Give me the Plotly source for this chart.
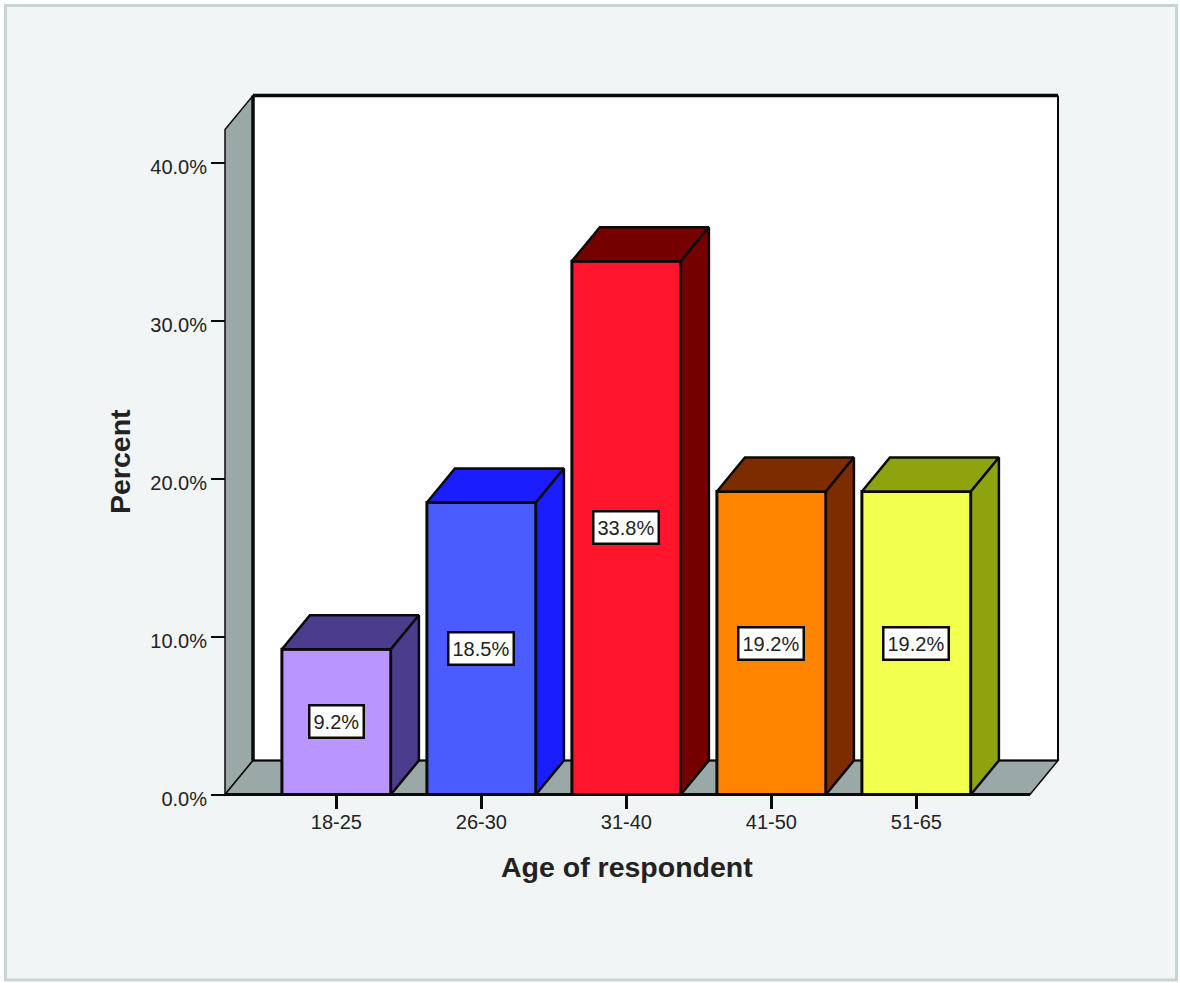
import plotly.graph_objects as go

# Survey results: share of respondents per age band
age_bands = ["18-25", "26-30", "31-40", "41-50", "51-65"]
percent = [9.2, 18.5, 33.8, 19.2, 19.2]
y_ticks = [0, 10, 20, 30, 40]
y_tick_labels = ["0.0%", "10.0%", "20.0%", "30.0%", "40.0%"]
front_colors = ["#b995ff", "#4a5cff", "#ff162d", "#ff8500", "#f2ff4d"]
side_colors = ["#4c3c8c", "#1a1eff", "#740000", "#7d2c00", "#8ea30d"]

WIDTH, HEIGHT = 1180, 983
PLOT_L, PLOT_R, PLOT_T, PLOT_B = 215, 1067, 85, 805
ORIGIN_X, ORIGIN_Y = 336.4, 794.5   # pixel position of the first category / of 0%
PX_PER_CAT, PX_PER_PCT = 145.0, 15.78
BAR_WIDTH = 109 / PX_PER_CAT
DX, DY = 28 / PX_PER_CAT, 34 / PX_PER_PCT   # oblique depth of the 3D look
X0 = (225 - ORIGIN_X) / PX_PER_CAT
X1 = (1030 - ORIGIN_X) / PX_PER_CAT
Y_TOP = (ORIGIN_Y - 95.5) / PX_PER_PCT
INK = "#0a0a0a"
WALL = "#9aa9a7"
TEXT = "#222222"


def poly(points):
    return "M" + " L".join(f"{x},{y}" for x, y in points) + " Z"


def paper_x(px):
    return (px - PLOT_L) / (PLOT_R - PLOT_L)


def paper_y(py):
    return (PLOT_B - py) / (PLOT_B - PLOT_T)


def edge(x_a, y_a, x_b, y_b, width):
    return dict(type="line", layer="below", xref="x", yref="y", x0=x_a, y0=y_a,
                x1=x_b, y1=y_b, line=dict(color=INK, width=width))


shapes = [
    # panel behind the chart
    dict(type="rect", layer="below", xref="paper", yref="paper",
         x0=paper_x(5.5), x1=paper_x(1176.5), y0=paper_y(980), y1=paper_y(5.5),
         fillcolor="#f1f5f6", line=dict(color="#c8d5d4", width=3)),
    # back wall
    dict(type="path", layer="below", xref="x", yref="y",
         path=poly([(X0 + DX, DY), (X0 + DX, Y_TOP), (X1 + DX, Y_TOP), (X1 + DX, DY)]),
         fillcolor="white", line=dict(width=0)),
    # left wall
    dict(type="path", layer="below", xref="x", yref="y",
         path=poly([(X0, 0), (X0 + DX, DY), (X0 + DX, Y_TOP), (X0, Y_TOP - DY)]),
         fillcolor=WALL, line=dict(color=INK, width=1.5)),
    # floor
    dict(type="path", layer="below", xref="x", yref="y",
         path=poly([(X0, 0), (X0 + DX, DY), (X1 + DX, DY), (X1, 0)]),
         fillcolor=WALL, line=dict(color=INK, width=1.5)),
    edge(X0 + DX, DY, X0 + DX, Y_TOP, 3.5),
    edge(X0 + DX, Y_TOP, X1 + DX, Y_TOP, 3.5),
    edge(X1 + DX, DY, X1 + DX, Y_TOP, 2),
    edge(X0 + DX, DY, X1 + DX, DY, 2),
    edge(X0, 0, X1, 0, 3),
]

fig = go.Figure()

fig.add_trace(go.Bar(
    x=list(range(len(age_bands))), y=percent, width=BAR_WIDTH,
    marker=dict(color=front_colors, line=dict(color=INK, width=3)),
    hoverinfo="skip", showlegend=False,
))

# Top and side faces of every bar, offset from its front face by the depth
for i, (value, color) in enumerate(zip(percent, side_colors)):
    left, right = i - BAR_WIDTH / 2, i + BAR_WIDTH / 2
    faces = [
        [(left, value), (left + DX, value + DY), (right + DX, value + DY), (right, value)],
        [(right, value), (right + DX, value + DY), (right + DX, DY), (right, 0)],
    ]
    for face in faces:
        closed = face + face[:1]
        fig.add_trace(go.Scatter(
            x=[p[0] for p in closed], y=[p[1] for p in closed],
            mode="lines", fill="toself", fillcolor=color,
            line=dict(color=INK, width=2.5), hoverinfo="skip", showlegend=False,
        ))

annotations = [
    dict(x=i, y=value / 2, xref="x", yref="y", text=f"{value}%", showarrow=False,
         font=dict(family="Liberation Sans", size=20, color=TEXT), height=24,
         bgcolor="white", bordercolor=INK, borderwidth=2.5, borderpad=3)
    for i, value in enumerate(percent)
]
annotations += [
    dict(x=paper_x(627), y=paper_y(867), xref="paper", yref="paper",
         xanchor="center", yanchor="middle",
         text="<b>Age of respondent</b>", showarrow=False,
         font=dict(family="Liberation Sans", size=28.5, color=TEXT)),
    dict(x=paper_x(120), y=paper_y(462), xref="paper", yref="paper",
         xanchor="center", yanchor="middle",
         text="<b>Percent</b>", showarrow=False, textangle=-90,
         font=dict(family="Liberation Sans", size=28.5, color=TEXT)),
]

tick_font = dict(family="Liberation Sans", size=20, color=TEXT)
fig.update_layout(
    width=WIDTH, height=HEIGHT, autosize=False,
    margin=dict(l=PLOT_L, r=WIDTH - PLOT_R, t=PLOT_T, b=HEIGHT - PLOT_B, pad=0),
    paper_bgcolor="white", plot_bgcolor="rgba(0,0,0,0)",
    showlegend=False, shapes=shapes, annotations=annotations,
    xaxis=dict(
        range=[(PLOT_L - ORIGIN_X) / PX_PER_CAT, (PLOT_R - ORIGIN_X) / PX_PER_CAT],
        anchor="free", position=(PLOT_B - ORIGIN_Y) / (PLOT_B - PLOT_T),
        tickmode="array", tickvals=list(range(len(age_bands))), ticktext=age_bands,
        ticks="outside", ticklen=13, tickwidth=2.5, tickcolor=INK, tickfont=tick_font,
        ticklabelstandoff=-4,
        showgrid=False, zeroline=False, showline=False,
    ),
    yaxis=dict(
        range=[(ORIGIN_Y - PLOT_B) / PX_PER_PCT, (ORIGIN_Y - PLOT_T) / PX_PER_PCT],
        anchor="free", position=(225 - PLOT_L) / (PLOT_R - PLOT_L),
        tickmode="array", tickvals=y_ticks, ticktext=y_tick_labels,
        ticks="outside", ticklen=14, tickwidth=2, tickcolor=INK, tickfont=tick_font,
        ticklabelshift=4,
        showgrid=False, zeroline=False, showline=False,
    ),
)

fig.write_html("out.html")
